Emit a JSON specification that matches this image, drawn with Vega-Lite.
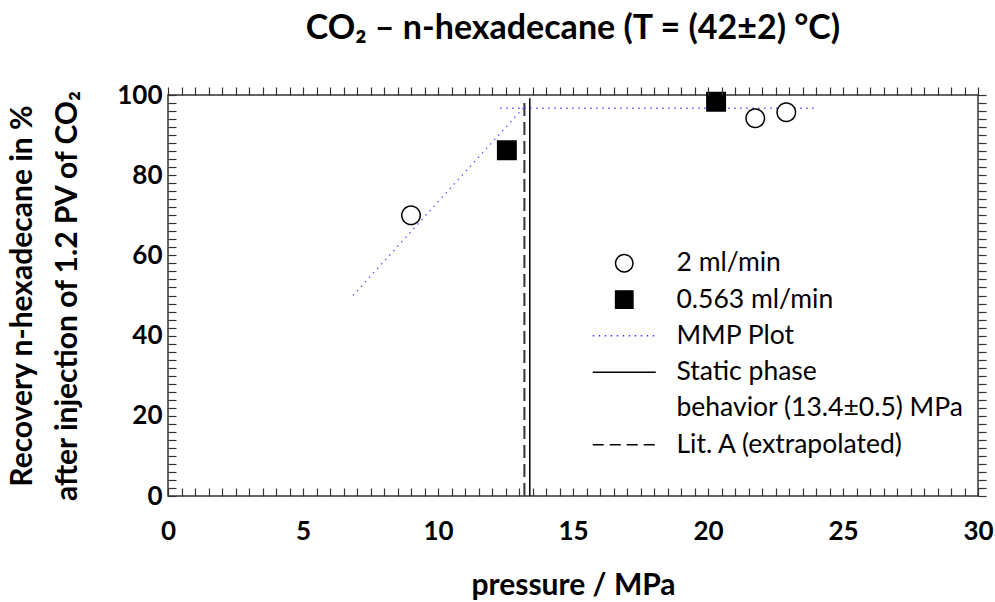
{
  "$schema": "https://vega.github.io/schema/vega-lite/v6.json",
  "width": 810,
  "height": 401,
  "autosize": {"type": "none"},
  "padding": {"left": 168, "top": 95, "right": 17, "bottom": 106},
  "background": "white",
  "config": {
    "view": {"stroke": "#333333", "strokeWidth": 1.5},
    "font": "Lato"
  },
  "title": {
    "text": "CO₂ – n-hexadecane (T = (42±2) °C)",
    "font": "Lato",
    "fontSize": 34,
    "fontWeight": "bold",
    "color": "black",
    "anchor": "middle",
    "baseline": "alphabetic",
    "offset": 9
  },
  "datasets": {
    "points": [
      {"pressure": 9.0, "recovery": 70.0, "series": "2 ml/min"},
      {"pressure": 21.75, "recovery": 94.2, "series": "2 ml/min"},
      {"pressure": 22.9, "recovery": 95.7, "series": "2 ml/min"},
      {"pressure": 12.55, "recovery": 86.2, "series": "0.563 ml/min"},
      {"pressure": 20.3, "recovery": 98.3, "series": "0.563 ml/min"}
    ],
    "mmp": [
      {"pressure": 6.85, "recovery": 50.0, "seg": "slope"},
      {"pressure": 13.15, "recovery": 96.7, "seg": "slope"},
      {"pressure": 12.3, "recovery": 96.7, "seg": "flat"},
      {"pressure": 24.0, "recovery": 96.7, "seg": "flat"}
    ],
    "rules": [
      {"name": "static", "pressure": 13.4},
      {"name": "lit", "pressure": 13.2}
    ]
  },
  "layer": [
    {
      "data": {"name": "rules"},
      "transform": [{"filter": "datum.name === 'lit'"}],
      "mark": {"type": "rule", "color": "#333333", "strokeWidth": 2, "strokeDash": [13, 6]},
      "encoding": {
        "x": {"field": "pressure", "type": "quantitative", "axis": null},
        "y": {"datum": 0, "type": "quantitative", "axis": null},
        "y2": {"datum": 99.2}
      }
    },
    {
      "data": {"name": "rules"},
      "transform": [{"filter": "datum.name === 'static'"}],
      "mark": {"type": "rule", "color": "black", "strokeWidth": 1.5},
      "encoding": {
        "x": {"field": "pressure", "type": "quantitative", "axis": null},
        "y": {"datum": 0, "type": "quantitative", "axis": null},
        "y2": {"datum": 99.2}
      }
    },
    {
      "data": {"name": "mmp"},
      "mark": {"type": "line", "color": "#3a3aff", "strokeWidth": 1.3, "strokeDash": [1.5, 4.5], "opacity": 0.85},
      "encoding": {
        "x": {
          "field": "pressure", "type": "quantitative",
          "axis": {
            "orient": "top", "title": null, "labels": false, "domain": false, "grid": false, "zindex": 1,
            "values": [0,0.5,1,1.5,2,2.5,3,3.5,4,4.5,5,5.5,6,6.5,7,7.5,8,8.5,9,9.5,10,10.5,11,11.5,12,12.5,13,13.5,14,14.5,15,15.5,16,16.5,17,17.5,18,18.5,19,19.5,20,20.5,21,21.5,22,22.5,23,23.5,24,24.5,25,25.5,26,26.5,27,27.5,28,28.5,29,29.5,30],
            "tickColor": "#333333", "tickWidth": 1.2, "tickSize": 8,
            "encode": {"ticks": {"update": {"y2": {"signal": "datum.value % 5 === 0 ? 8 : 4"}}}}
          }
        },
        "y": {
          "field": "recovery", "type": "quantitative",
          "axis": {
            "orient": "right", "title": null, "labels": false, "domain": false, "grid": false, "zindex": 1,
            "values": [0,2,4,6,8,10,12,14,16,18,20,22,24,26,28,30,32,34,36,38,40,42,44,46,48,50,52,54,56,58,60,62,64,66,68,70,72,74,76,78,80,82,84,86,88,90,92,94,96,98,100],
            "tickColor": "#333333", "tickWidth": 1.2, "tickSize": 8,
            "encode": {"ticks": {"update": {"x2": {"signal": "datum.value % 20 === 0 ? -8 : -4"}}}}
          }
        },
        "detail": {"field": "seg", "type": "nominal"}
      }
    },
    {
      "data": {"name": "points"},
      "mark": {"type": "point", "filled": true, "size": 340, "strokeWidth": 1.5, "opacity": 1},
      "encoding": {
        "x": {
          "field": "pressure", "type": "quantitative",
          "scale": {"domain": [0, 30], "nice": false, "zero": false},
          "axis": {
            "orient": "bottom", "domain": false, "grid": false, "zindex": 1,
            "values": [0,0.5,1,1.5,2,2.5,3,3.5,4,4.5,5,5.5,6,6.5,7,7.5,8,8.5,9,9.5,10,10.5,11,11.5,12,12.5,13,13.5,14,14.5,15,15.5,16,16.5,17,17.5,18,18.5,19,19.5,20,20.5,21,21.5,22,22.5,23,23.5,24,24.5,25,25.5,26,26.5,27,27.5,28,28.5,29,29.5,30],
            "labelExpr": "datum.value % 5 === 0 ? format(datum.value, 'd') : ''",
            "tickColor": "#333333", "tickWidth": 1.2, "tickSize": -8,
            "encode": {"ticks": {"update": {"y2": {"signal": "datum.value % 5 === 0 ? -8 : -4"}}}},
            "labelFont": "Lato", "labelFontSize": 26, "labelFontWeight": "bold", "labelColor": "black",
            "labelPadding": 30, "labelFlush": false, "labelOverlap": false,
            "title": "pressure / MPa", "titleFont": "Lato", "titleFontSize": 30, "titleFontWeight": "bold",
            "titleColor": "black", "titlePadding": 26
          }
        },
        "y": {
          "field": "recovery", "type": "quantitative",
          "scale": {"domain": [0, 100], "nice": false, "zero": false},
          "axis": {
            "orient": "left", "domain": false, "grid": false, "zindex": 1,
            "values": [0,2,4,6,8,10,12,14,16,18,20,22,24,26,28,30,32,34,36,38,40,42,44,46,48,50,52,54,56,58,60,62,64,66,68,70,72,74,76,78,80,82,84,86,88,90,92,94,96,98,100],
            "labelExpr": "datum.value % 20 === 0 ? format(datum.value, 'd') : ''",
            "tickColor": "#333333", "tickWidth": 1.2, "tickSize": -8,
            "encode": {"ticks": {"update": {"x2": {"signal": "datum.value % 20 === 0 ? 8 : 4"}}}},
            "labelFont": "Lato", "labelFontSize": 26, "labelFontWeight": "bold", "labelColor": "black",
            "labelPadding": 14, "labelFlush": false, "labelOverlap": false,
            "title": ["Recovery n-hexadecane in %", "after injection of 1.2 PV of CO₂"],
            "titleFont": "Lato", "titleFontSize": 30, "titleFontWeight": "bold", "titleColor": "black",
            "titleLineHeight": 45, "titlePadding": 34
          }
        },
        "shape": {
          "field": "series", "type": "nominal",
          "scale": {
            "domain": ["2 ml/min", "0.563 ml/min", "MMP Plot", "Static phase", "behavior (13.4±0.5) MPa", "Lit. A (extrapolated)"],
            "range": ["circle", "square", "M-3.64,0H3.64", "M-3.64,0H3.64", "M-3.64,0H3.64", "M-3.64,0H3.64"]
          },
          "legend": {
            "title": null, "orient": "none", "legendX": 443, "legendY": 155,
            "symbolSize": 300, "symbolStrokeWidth": 1.5,
            "labelFont": "Lato", "labelFontSize": 26.5, "labelColor": "black",
            "labelOffset": 39, "symbolOffset": 0, "rowPadding": 9.3, "padding": 0, "labelLimit": 400
          }
        },
        "fill": {
          "field": "series", "type": "nominal",
          "scale": {
            "domain": ["2 ml/min", "0.563 ml/min", "MMP Plot", "Static phase", "behavior (13.4±0.5) MPa", "Lit. A (extrapolated)"],
            "range": ["white", "black", "transparent", "transparent", "transparent", "transparent"]
          },
          "legend": {
            "title": null, "orient": "none", "legendX": 443, "legendY": 155,
            "symbolSize": 300, "symbolStrokeWidth": 1.5,
            "labelFont": "Lato", "labelFontSize": 26.5, "labelColor": "black",
            "labelOffset": 39, "symbolOffset": 0, "rowPadding": 9.3, "padding": 0, "labelLimit": 400
          }
        },
        "stroke": {
          "field": "series", "type": "nominal",
          "scale": {
            "domain": ["2 ml/min", "0.563 ml/min", "MMP Plot", "Static phase", "behavior (13.4±0.5) MPa", "Lit. A (extrapolated)"],
            "range": ["black", "black", "#3a3aff", "black", "transparent", "black"]
          },
          "legend": {
            "title": null, "orient": "none", "legendX": 443, "legendY": 155,
            "symbolSize": 300, "symbolStrokeWidth": 1.5,
            "labelFont": "Lato", "labelFontSize": 26.5, "labelColor": "black",
            "labelOffset": 39, "symbolOffset": 0, "rowPadding": 9.3, "padding": 0, "labelLimit": 400
          }
        },
        "strokeDash": {
          "field": "series", "type": "nominal",
          "scale": {
            "domain": ["2 ml/min", "0.563 ml/min", "MMP Plot", "Static phase", "behavior (13.4±0.5) MPa", "Lit. A (extrapolated)"],
            "range": [[1, 0], [1, 0], [1.5, 4.5], [1, 0], [1, 0], [11, 6]]
          },
          "legend": {
            "title": null, "orient": "none", "legendX": 443, "legendY": 155,
            "symbolSize": 300, "symbolStrokeWidth": 1.5,
            "labelFont": "Lato", "labelFontSize": 26.5, "labelColor": "black",
            "labelOffset": 39, "symbolOffset": 0, "rowPadding": 9.3, "padding": 0, "labelLimit": 400
          }
        }
      }
    }
  ],
  "resolve": {"axis": {"x": "independent", "y": "independent"}}
}
